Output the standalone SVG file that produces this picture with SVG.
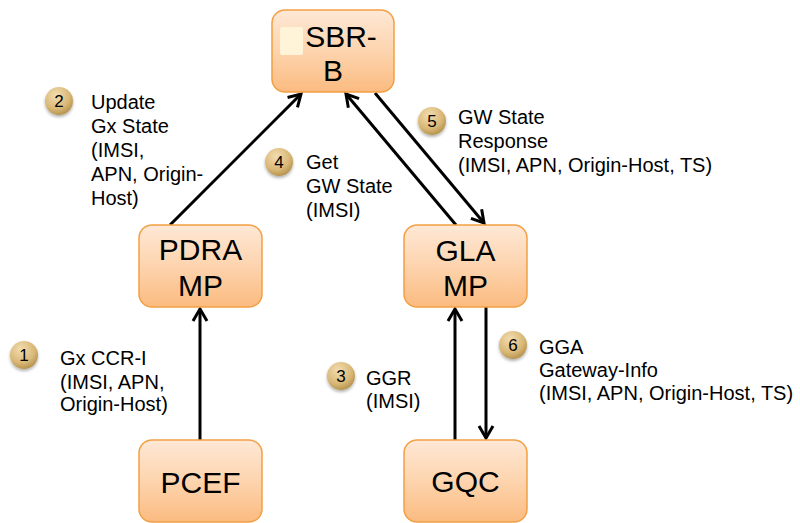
<svg xmlns="http://www.w3.org/2000/svg" width="800" height="523" viewBox="0 0 800 523">
<defs>
<linearGradient id="boxg" x1="0" y1="0" x2="0" y2="1">
<stop offset="0" stop-color="#fee8d6"/>
<stop offset="0.5" stop-color="#fdd4ae"/>
<stop offset="1" stop-color="#fbbb80"/>
</linearGradient>
<radialGradient id="badgeg" cx="0.4" cy="0.3" r="0.8">
<stop offset="0" stop-color="#f2ddb0"/>
<stop offset="0.6" stop-color="#d9b877"/>
<stop offset="1" stop-color="#a88640"/>
</radialGradient>
<filter id="sh" x="-50%" y="-50%" width="200%" height="200%">
<feDropShadow dx="0" dy="2" stdDeviation="1.5" flood-color="#000" flood-opacity="0.3"/>
</filter>
<marker id="ah" markerUnits="userSpaceOnUse" markerWidth="20" markerHeight="20" viewBox="-14 -10 16 20" refX="0" refY="0" orient="auto">
<path d="M-12,-7 L0,0 L-12,7" fill="none" stroke="#000" stroke-width="3" stroke-linejoin="miter"/>
</marker>
</defs>
<style>
.box{fill:url(#boxg);stroke:#f2a043;stroke-width:1.5}
.bt{font-family:"Liberation Sans",Arial,sans-serif;font-size:30px;fill:#000;text-anchor:middle}
.lab{font-family:"Liberation Sans",Arial,sans-serif;font-size:20px;fill:#000}
.badge{fill:url(#badgeg);filter:url(#sh)}
.bn{font-family:"Liberation Sans",Arial,sans-serif;font-size:17px;fill:#000;text-anchor:middle}
.con{stroke:#000;stroke-width:3;fill:none;marker-end:url(#ah)}
</style>
<rect width="800" height="523" fill="#fff"/>
<g id="connectors">
<line class="con" x1="200" y1="440" x2="200" y2="309"/>
<line class="con" x1="170" y1="225" x2="301" y2="94"/>
<line class="con" x1="455" y1="440" x2="455" y2="309"/>
<line class="con" x1="456" y1="225" x2="346" y2="94"/>
<line class="con" x1="375" y1="93" x2="484" y2="223"/>
<line class="con" x1="486" y1="307" x2="486" y2="438"/>
</g>
<g id="node-sbr">
<rect class="box" x="272" y="10" width="122" height="82" rx="13"/>
<rect x="280" y="27" width="23" height="28" rx="2" fill="#fff3d8"/>
<text class="bt" x="341" y="47">SBR-</text>
<text class="bt" x="333" y="81">B</text>
</g>
<g id="node-pdra">
<rect class="box" x="139" y="225" width="123" height="82" rx="13"/>
<text class="bt" x="200.5" y="260">PDRA</text>
<text class="bt" x="200.5" y="296">MP</text>
</g>
<g id="node-gla">
<rect class="box" x="404" y="225" width="123" height="82" rx="13"/>
<text class="bt" x="465.5" y="261">GLA</text>
<text class="bt" x="465.5" y="296">MP</text>
</g>
<g id="node-pcef">
<rect class="box" x="139" y="440" width="123" height="82" rx="13"/>
<text class="bt" x="200.5" y="493">PCEF</text>
</g>
<g id="node-gqc">
<rect class="box" x="404" y="440" width="123" height="82" rx="13"/>
<text class="bt" x="465.5" y="492">GQC</text>
</g>
<g id="label-1">
<circle class="badge" cx="24" cy="355" r="14"/>
<text class="bn" x="24" y="361">1</text>
<text class="lab" x="60" y="365">Gx CCR-I</text>
<text class="lab" x="60" y="389">(IMSI, APN,</text>
<text class="lab" x="60" y="411">Origin-Host)</text>
</g>
<g id="label-2">
<circle class="badge" cx="59" cy="101" r="14"/>
<text class="bn" x="59" y="107">2</text>
<text class="lab" x="91" y="109">Update</text>
<text class="lab" x="91" y="133">Gx State</text>
<text class="lab" x="91" y="157">(IMSI,</text>
<text class="lab" x="91" y="181">APN, Origin-</text>
<text class="lab" x="91" y="205">Host)</text>
</g>
<g id="label-3">
<circle class="badge" cx="341" cy="376" r="14"/>
<text class="bn" x="341" y="382">3</text>
<text class="lab" x="366" y="385">GGR</text>
<text class="lab" x="366" y="408">(IMSI)</text>
</g>
<g id="label-4">
<circle class="badge" cx="279" cy="162" r="14"/>
<text class="bn" x="279" y="168">4</text>
<text class="lab" x="306" y="169">Get</text>
<text class="lab" x="306" y="193">GW State</text>
<text class="lab" x="306" y="217">(IMSI)</text>
</g>
<g id="label-5">
<circle class="badge" cx="432" cy="121" r="14"/>
<text class="bn" x="432" y="127">5</text>
<text class="lab" x="458" y="124">GW State</text>
<text class="lab" x="458" y="148">Response</text>
<text class="lab" x="458" y="172">(IMSI, APN, Origin-Host, TS)</text>
</g>
<g id="label-6">
<circle class="badge" cx="513" cy="345" r="14"/>
<text class="bn" x="513" y="351">6</text>
<text class="lab" x="539" y="354">GGA</text>
<text class="lab" x="539" y="377">Gateway-Info</text>
<text class="lab" x="539" y="400">(IMSI, APN, Origin-Host, TS)</text>
</g>
</svg>
